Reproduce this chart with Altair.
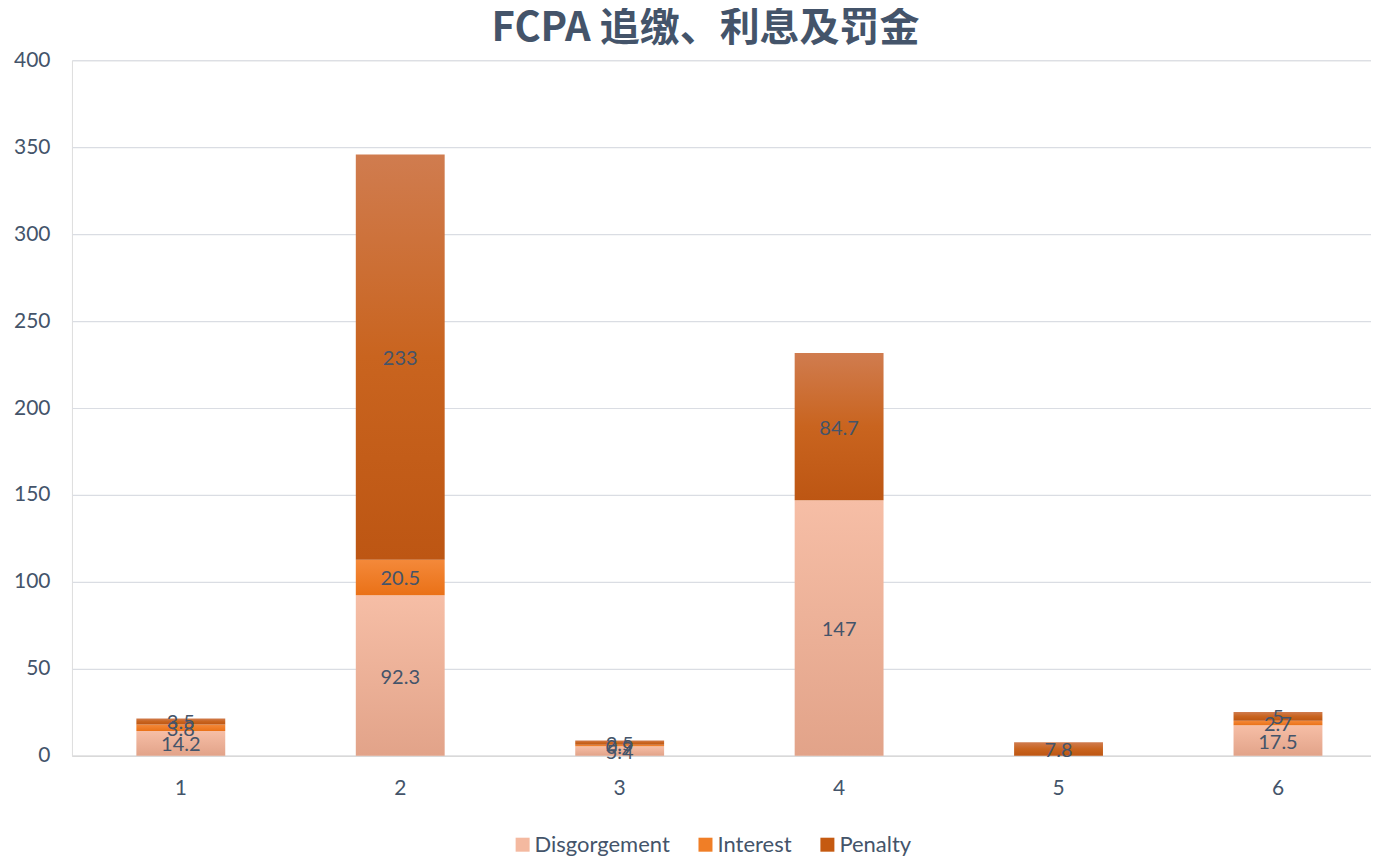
import altair as alt
import pandas as pd

categories = ["1", "2", "3", "4", "5", "6"]
disgorgement = [14.2, 92.3, 5.4, 147, 0, 17.5]
interest = [3.8, 20.5, 0.9, 0, 0, 2.7]
penalty = [3.5, 233, 2.5, 84.7, 7.8, 5]
series = ["Disgorgement", "Interest", "Penalty"]
flat_colors = ["#F4B9A0", "#F07E26", "#C55A11"]
y_ticks = [0, 50, 100, 150, 200, 250, 300, 350, 400]

rows = []
for si, (name, vals) in enumerate(zip(series, [disgorgement, interest, penalty])):
    for c, v in zip(categories, vals):
        rows.append({"cat": c, "series": name, "order": si, "value": v, "label": f"{v:g}"})
df = pd.DataFrame(rows)


def grad(stops):
    return alt.Gradient(
        gradient="linear", x1=0, x2=0, y1=0, y2=1,
        stops=[alt.GradientStop(color=c, offset=o) for o, c in stops],
    )


gradients = {
    "Disgorgement": grad([(0, "#F6BEA6"), (1, "#E2A389")]),
    "Interest": grad([(0, "#F4893A"), (1, "#EA7117")]),
    "Penalty": grad([(0, "#D07C4F"), (0.5, "#C9641F"), (1, "#BD5613")]),
}

TXT = "#44546A"
FONT = "Lato"

x_enc = alt.X(
    "cat:N", sort=categories,
    scale=alt.Scale(paddingInner=0.595, paddingOuter=0.2575, align=0.57),
    axis=alt.Axis(title=None, labelAngle=0, ticks=False, domain=True,
                  domainColor="#D9D9D9", domainWidth=1.5, labelPadding=22,
                  labelFontSize=21, labelColor=TXT, labelFont=FONT, grid=False),
)
y_scale = alt.Scale(domain=[0, 400], nice=False)
y_axis = alt.Axis(title=None, values=y_ticks, ticks=False, domain=False,
                  gridColor="#DADDE3", gridWidth=1.2, labelPadding=22,
                  labelFontSize=21, labelColor=TXT, labelFont=FONT)

base = alt.Chart(df).transform_stack(
    stack="value", groupby=["cat"], as_=["y0", "y1"],
    sort=[alt.SortField("order", "ascending")],
)

layers = []
for name in series:
    layers.append(
        base.transform_filter(alt.datum.series == name)
        .mark_bar(color=gradients[name])
        .encode(x=x_enc,
                y=alt.Y("y0:Q", scale=y_scale, axis=y_axis),
                y2="y1:Q")
    )

labels = (
    base.transform_filter(alt.datum.value > 0)
    .transform_calculate(mid="(datum.y0 + datum.y1) / 2")
    .mark_text(fontSize=20, color=TXT, font=FONT, baseline="middle", dy=2)
    .encode(x=x_enc, y=alt.Y("mid:Q", scale=y_scale, axis=y_axis), text="label:N")
)

legend_layer = (
    alt.Chart(df)
    .mark_point(shape="square", filled=True, opacity=0)
    .encode(
        x=x_enc,
        y=alt.Y("value:Q", scale=y_scale, axis=y_axis),
        color=alt.Color(
            "series:N",
            scale=alt.Scale(domain=series, range=flat_colors),
            legend=alt.Legend(
                title=None, orient="none", legendX=440, legendY=774,
                direction="horizontal", symbolType="square", symbolSize=196,
                symbolOpacity=1, symbolStrokeWidth=0, labelFontSize=22,
                labelColor=TXT, labelFont=FONT, columnPadding=24, labelOffset=1,
            ),
        ),
    )
)

chart = (
    alt.layer(*layers, labels, legend_layer)
    .properties(
        width=1300, height=696,
        title=alt.Title("FCPA 追缴、利息及罚金", fontSize=40, font="Noto Sans CJK SC",
                        fontWeight="bold", color=TXT, anchor="middle", offset=0, dx=-16),
        autosize=alt.AutoSizeParams(type="none"),
        padding={"left": 64, "top": 52, "right": 0, "bottom": 100},
    )
    .configure_view(stroke=None)
    .configure(background="white")
)

chart.save("out.html", embed_options={"renderer": "svg", "actions": False})
